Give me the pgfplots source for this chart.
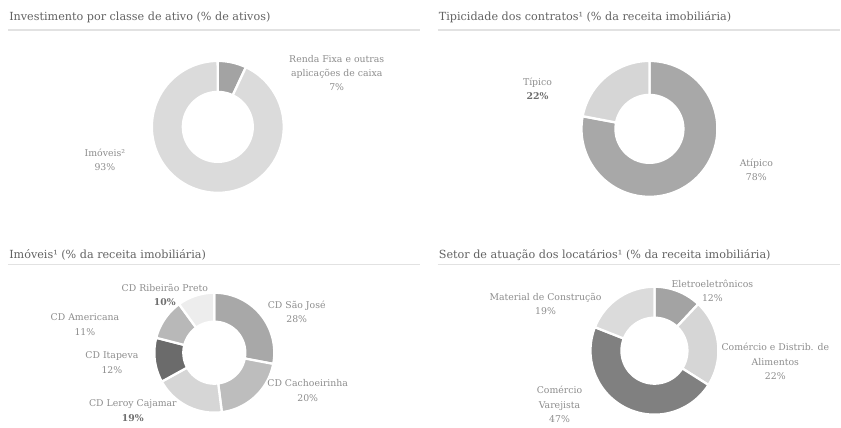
\documentclass[border=0pt]{standalone}
\usepackage{fontspec}
\setmainfont{DejaVu Serif}
\usepackage{pgfplots}
\pgfplotsset{compat=1.18}
\definecolor{tit}{HTML}{626262}
\definecolor{labc}{HTML}{8C8C8C}
\definecolor{labb}{HTML}{6E6E6E}
\definecolor{rule}{HTML}{E2E2E2}
\newcommand{\tfont}{\fontsize{8.4}{10}\selectfont}
\newcommand{\lfont}{\fontsize{7}{10.8}\selectfont}
% slice: cx, cy, R, r, start %, end %, colour
\newcommand{\slice}[7]{%
\addplot[fill=#7, draw=white, line width=1.7pt, line join=round,
  samples at={0,0.01,...,1,2,2.01,...,3,4}, variable=\t]
  ({#1+rr(\t,#3,#4)*cos(th(\t,90-3.6*#5,90-3.6*#6))},
   {#2+rr(\t,#3,#4)*sin(th(\t,90-3.6*#5,90-3.6*#6))});
}
\begin{document}
\begin{tikzpicture}
\begin{axis}[x=0.75pt, y=0.75pt, xmin=0, xmax=841, ymin=0, ymax=424,
  hide axis, clip=false,
  declare function={
    rr(\s,\p,\q)=ifthenelse(\s<=1,\p,ifthenelse(\s<=2,\p-(\p-\q)*(\s-1),ifthenelse(\s<=3,\q,\q+(\p-\q)*(\s-3))));
    th(\s,\p,\q)=ifthenelse(\s<=1,\p+(\q-\p)*\s,ifthenelse(\s<=2,\q,ifthenelse(\s<=3,\q+(\p-\q)*(\s-2),\p)));
  }]
\path (axis cs:0,0) rectangle (axis cs:841,424);
% titles and rules
\node[anchor=west, font=\tfont, text=tit, inner sep=0pt] at (axis cs:9,407) {Investimento por classe de ativo (\% de ativos)};
\node[anchor=west, font=\tfont, text=tit, inner sep=0pt] at (axis cs:439,407) {Tipicidade dos contratos¹ (\% da receita imobiliária)};
\node[anchor=west, font=\tfont, text=tit, inner sep=0pt] at (axis cs:9,169) {Imóveis¹ (\% da receita imobiliária)};
\node[anchor=west, font=\tfont, text=tit, inner sep=0pt] at (axis cs:439,169) {Setor de atuação dos locatários¹ (\% da receita imobiliária)};
\draw[rule, line width=1.1pt] (axis cs:8,394) -- (axis cs:420,394);
\draw[rule, line width=1.1pt] (axis cs:438,394) -- (axis cs:841,394);
\draw[rule, line width=1.1pt] (axis cs:8,159) -- (axis cs:420,159);
\draw[rule, line width=1.1pt] (axis cs:438,159) -- (axis cs:841,159);
% donut 1
\slice{218}{297}{66}{35}{0}{7}{black!36}
\slice{218}{297}{66}{35}{7}{100}{black!14}
\node[align=center, font=\lfont, text=labc] at (axis cs:337,351) {Renda Fixa e outras\\aplicações de caixa\\7\%};
\node[align=center, font=\lfont, text=labc] at (axis cs:105,264) {Imóveis²\\93\%};
% donut 2
\slice{650}{295}{68}{34}{0}{78}{black!34}
\slice{650}{295}{68}{34}{78}{100}{black!16}
\node[align=center, font=\lfont, text=labc] at (axis cs:538,335) {Típico\\\textcolor{labb}{\bfseries 22\%}};
\node[align=center, font=\lfont, text=labc] at (axis cs:757,254) {Atípico\\78\%};
% donut 3
\slice{214.5}{71}{60}{31}{0}{28}{black!34}
\slice{214.5}{71}{60}{31}{28}{48}{black!26}
\slice{214.5}{71}{60}{31}{48}{67}{black!16}
\slice{214.5}{71}{60}{31}{67}{79}{black!58}
\slice{214.5}{71}{60}{31}{79}{90}{black!28}
\slice{214.5}{71}{60}{31}{90}{100}{black!7}
\node[align=center, font=\lfont, text=labc] at (axis cs:165,129) {CD Ribeirão Preto\\\textcolor{labb}{\bfseries 10\%}};
\node[align=center, font=\lfont, text=labc] at (axis cs:85,99) {CD Americana\\11\%};
\node[align=center, font=\lfont, text=labc] at (axis cs:112,61) {CD Itapeva\\12\%};
\node[align=center, font=\lfont, text=labc] at (axis cs:133,13) {CD Leroy Cajamar\\\textcolor{labb}{\bfseries 19\%}};
\node[align=center, font=\lfont, text=labc] at (axis cs:297,112) {CD São José\\28\%};
\node[align=center, font=\lfont, text=labc] at (axis cs:308,33) {CD Cachoeirinha\\20\%};
% donut 4
\slice{655}{73}{64}{33}{0}{12}{black!36}
\slice{655}{73}{64}{33}{12}{34}{black!16}
\slice{655}{73}{64}{33}{34}{81}{black!50}
\slice{655}{73}{64}{33}{81}{100}{black!14}
\node[align=center, font=\lfont, text=labc] at (axis cs:713,133) {Eletroeletrônicos\\12\%};
\node[align=center, font=\lfont, text=labc] at (axis cs:546,120) {Material de Construção\\19\%};
\node[align=center, font=\lfont, text=labc] at (axis cs:776,62) {Comércio e Distrib. de\\Alimentos\\22\%};
\node[align=center, font=\lfont, text=labc] at (axis cs:560,19) {Comércio\\Varejista\\47\%};
\end{axis}
\end{tikzpicture}
\end{document}
